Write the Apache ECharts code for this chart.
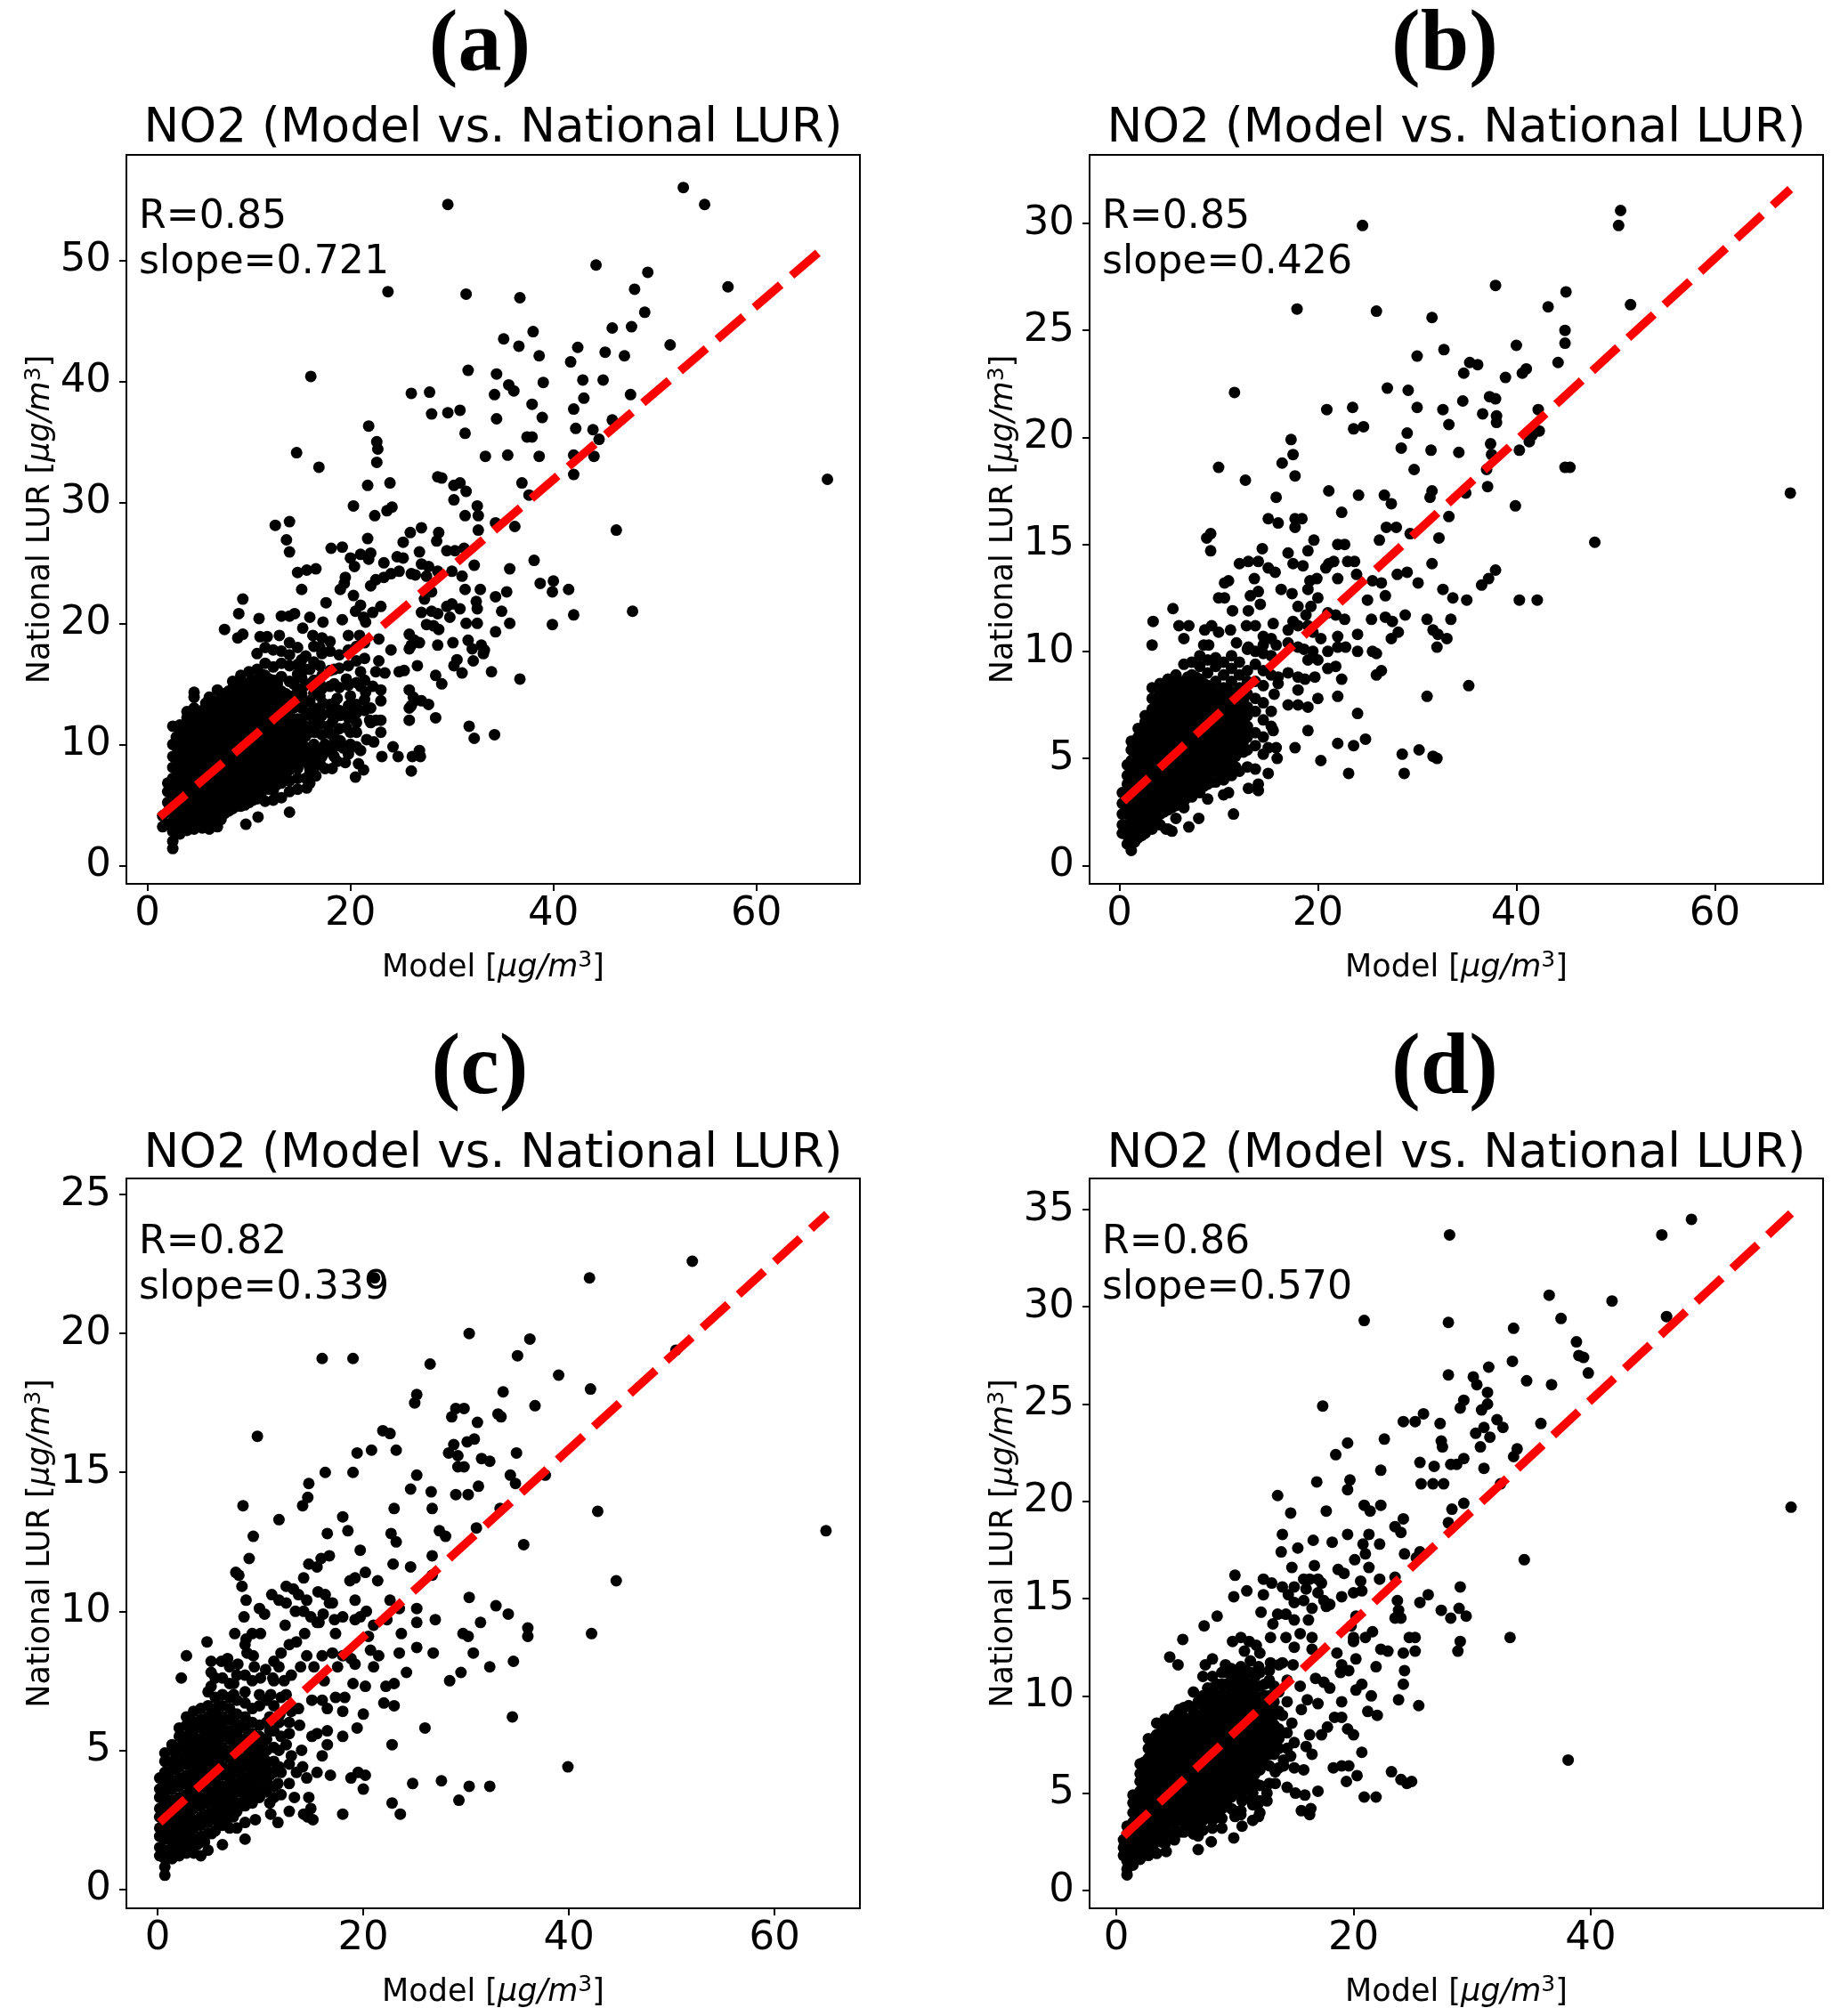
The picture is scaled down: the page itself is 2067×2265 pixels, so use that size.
<!DOCTYPE html>
<html><head><meta charset="utf-8">
<style>html,body{margin:0;padding:0;background:#fff}#c{width:2067px;height:2265px}</style>
<script src="https://cdn.jsdelivr.net/npm/echarts@6/dist/echarts.min.js"></script>
</head><body><div id="c"></div>
<script>
const panelLetters=['(a)','(b)','(c)','(d)'];
const chartTitle='NO2 (Model vs. National LUR)';
const rValues=['R=0.85','R=0.85','R=0.82','R=0.86'];
const slopeValues=['slope=0.721','slope=0.426','slope=0.339','slope=0.570'];
const xTicksA=[0,20,40,60],xTicksB=[0,20,40,60],xTicksC=[0,20,40,60],xTicksD=[0,20,40];
const yTicksA=[0,10,20,30,40,50],yTicksB=[0,5,10,15,20,25,30],yTicksC=[0,5,10,15,20,25],yTicksD=[0,5,10,15,20,25,30,35];
const fitA=[[1.2,4.0],[66.2,50.7]],fitB=[[0.4,3.0],[67.6,31.6]],fitC=[[0.2,2.4],[65.1,24.3]],fitD=[[0.6,2.8],[56.9,34.8]];

const pointsA=[[52.8,56],[54.9,54.6],[29.6,54.6],[44.2,49.6],[49.3,49],[57.2,47.8],[23.7,47.4],[31.4,47.2],[48,47.6],[36.7,46.9],[49,45.7],[45.8,44.4],[47.7,44.5],[38,44.1],[35.1,43.5],[51.5,43],[36.6,42.9],[42.4,42.8],[38.6,42.1],[41.7,41.6],[45.1,42.4],[47,42.1],[31.6,40.9],[34.4,40.6],[16.1,40.4],[42.9,40.1],[44.9,40.1],[39,39.9],[35.6,39.7],[26,39],[27.8,39.1],[36.1,39.2],[34.2,38.9],[47.6,38.9],[43,38.6],[37.9,38.1],[42,37.7],[29.6,37.4],[30.8,37.6],[28,37.3],[34.4,36.9],[38.9,37],[45.8,36.8],[42.2,36.1],[43.9,36],[21.8,36.3],[31.3,35.7],[37.4,35.4],[37.9,35.4],[22.6,35],[44.5,35.2],[22.7,34.4],[14.7,34.1],[33.3,33.8],[35.5,33.9],[38.6,33.8],[42,33.9],[44,33.8],[22.6,33.3],[16.9,32.9],[42,32.3],[28.6,32.1],[29,32],[36.9,31.6],[23.9,31.6],[30.2,31.4],[30.8,31.6],[21.7,31.4],[31.4,30.9],[37.6,30.6],[30.2,30.2],[67,31.9],[32.5,29.7],[20.3,29.7],[23.6,29.3],[24.1,29.6],[22.4,28.9],[31.3,28.9],[32.6,28.9],[34.3,28.3],[12.6,28.1],[14,28.4],[36.2,28],[46.2,27.7],[25.9,27.5],[27,27.9],[28.7,27.5],[32.6,27.7],[13.7,26.9],[21.7,27],[28.5,26.8],[25.2,26.7],[14,25.9],[18.1,26.2],[19.2,26.3],[21,25.7],[22,25.8],[26.8,25.9],[29.5,26],[30.3,26],[31.2,26.2],[24.6,25.5],[20,25.4],[21.8,25.3],[23.3,25],[25.2,25.4],[38.1,25.2],[32.2,24.8],[14.8,24.2],[15.7,24.4],[16.6,24.5],[20.4,24.7],[24.8,24.3],[26,24.1],[27,24.9],[27.7,24.7],[28.6,24.3],[30,24.3],[35.7,24.5],[19.5,23.8],[23.3,23.8],[24,24.1],[26.4,24],[27.5,23.9],[31,23.9],[38.7,23.3],[40,23.5],[19.4,23.3],[22.5,23.6],[22,23.1],[15.2,22.8],[19,22.8],[28,22.6],[31.3,22.8],[32.8,22.8],[34.3,22.2],[35.4,22.6],[39.9,22.6],[41.5,22.8],[9.4,22],[20.3,22.3],[21,21.5],[23,21.4],[27.3,22],[29.5,21.4],[30,21.6],[30.8,21.2],[32.4,21.8],[32.5,21.2],[17.6,21.7],[20.5,21],[21.3,20.5],[22.2,20.9],[27,20.9],[28,21],[28.6,20.8],[29.8,20.5],[34.9,21],[47.8,21],[9,20.8],[11,20.4],[13.2,20.6],[14,20.6],[14.5,20.8],[16,20.5],[17.3,20.1],[19.2,20.3],[21.5,20.1],[31.4,20],[32.5,20],[35.7,20],[39.9,19.9],[42,20.7],[7.6,19.5],[8.9,18.8],[9.4,19.1],[11.1,18.9],[11.8,18.9],[13,19],[15.3,19.6],[16.3,19],[17.2,18.8],[18,18.5],[19.8,19],[20.9,19],[22.8,18.7],[25.8,19.1],[26.3,18.6],[26.8,18.4],[27.5,19.9],[28.2,19.8],[28.7,19.5],[34.3,19.3],[14,4.4],[9.7,3.4],[10.9,4],[14.8,6.3],[15.7,6.4],[16,6.8],[16,7.6],[17.5,8],[18.7,8.6],[19.5,8.5],[20.5,7.3],[21.3,7.9],[20.8,8.4],[21,9.5],[19.3,9.7],[19,10.3],[18.5,10.2],[20,10],[22.3,10.2],[21.6,10.4],[23,11],[22.5,12],[22,11.8],[23,12],[23,13.6],[23,14.5],[22,13],[21.9,12],[23.1,9],[24.2,9.8],[24.7,9],[26,7.8],[26.1,9],[26.8,9.5],[26.9,9],[25.8,12],[25.8,13],[26,13.2],[26.3,13.6],[27,13.6],[27.7,13.3],[25.8,14.5],[26.2,13.9],[28.4,12.2],[31.7,11.5],[32.2,10.5],[34.2,10.8],[26.6,16.5],[24.8,16],[25.3,16.1],[28.4,15.7],[29,15],[32.1,16.9],[33.9,16],[36.7,15.4],[31,15.9],[30.2,16.5],[30.5,17],[32,17.9],[33.1,17.5],[33.2,17.8],[30.1,18.4],[31.6,18.6],[32.9,18.2],[28.6,18.2],[25.8,17.9],[26,18.2],[24,17.8],[22.8,16.9],[22.5,16],[23.4,15.9],[21,16],[19.6,15.4],[20,14],[21,14.8],[21.5,14.3],[22.2,14.8],[18.7,13.8],[17.3,13.4],[16.8,12.2],[17.8,11.5],[18,12.6],[19,12.4],[20,11],[16.5,11],[15.5,9.8],[16.8,9.5],[17.5,10],[15,8.8],[16,8.7],[16.6,7.4],[16.6,8.8],[18.2,8],[18.2,9.5],[18.2,11.8],[19.6,11.4],[19.6,12.8],[20.6,9.8],[20.6,11],[20.6,12.6]];
const denseA=[[1.5,[3.2,4.1]],[2,[3.4,4.4,5.2,6.1,6.8]],[2.5,[1.4,2,2.8,3.6,4.5,5.4,6.3,7.2,8.1,9,10,11.5]],[3.2,[2.6,3.4,4.3,5.1,6,6.8,7.7,8.5,9.4,10.2,11,11.6]],[3.9,[2.9,3.8,4.6,5.5,6.3,7.1,8,8.8,9.6,10.5,11.3,12.2,12.7]],[4.6,[3,3.9,4.7,5.6,6.4,7.3,8.1,8.9,9.8,10.6,11.4,12.3,13,14.3,13.9]],[5.4,[3.1,3.7,4.6,5.4,6.2,7,7.9,8.7,9.5,10.4,11.2,12,12.8,12.5]],[6.1,[3,3.9,4.9,5.7,6.6,7.4,8.3,9.1,9.9,10.8,11.6,12.4,13.1,13.9]],[6.9,[3.2,4.1,5,5.8,6.7,7.5,8.4,9.2,10,10.9,11.7,12.5,13.3,14.5]],[7.6,[4.3,5.2,6.1,6.9,7.8,8.6,9.4,10.3,11.1,11.9,12.8,13.6,14.2]],[8.4,[4.7,5.5,6.4,7.2,8,8.9,9.7,10.5,11.4,12.2,13,13.8,14.6,15.2]],[9.2,[4.9,5.8,6.6,7.4,8.3,9.1,9.9,10.8,11.6,12.4,13.2,14.1,14.9,15.7]],[10,[5.2,6,6.9,7.7,8.5,9.4,10.2,11,11.8,12.7,13.5,14.3,15.1,16]],[10.8,[5.5,6.3,7.1,8,8.8,9.6,10.5,11.3,12.1,12.9,13.7,14.6,15.4,16.2,17.5]],[11.6,[5.3,6.6,7.4,8.2,9.1,9.9,10.7,11.5,12.4,13.2,14,14.9,15.7,16.7,18]],[12.4,[5.4,6.2,7.1,7.9,8.7,9.6,10.4,11.2,12,12.9,13.7,14.5,15.3,16.4,17.8]],[13.2,[5.6,6.8,7.6,8.5,9.3,10.1,10.9,11.8,12.6,13.4,14.4,15.6,16.7,17.7]],[14,[6.1,7,7.9,8.9,9.7,10.6,11.4,12.3,13.1,14,15.2,16.5,17.4,18.4]],[14.8,[7.2,8,9.4,10.5,11.2,12.1,13.4,14.6,15.8,16.6,18]],[15.6,[7.2,8.5,10.7,11.5,12.6,13.5,14.9,16.2,17.3]],[16.4,[8,10,11.7,13,14.2,15.3,16.8,18.1]],[17.2,[9,10.8,12.4,14.6,15.7,17.5]],[18,[9.4,10.9,13.3,14.8,16.1,17.7]],[18.9,[9.9,11.3,12.8,14.7,16.3,17.4]],[19.8,[9.2,12.2,13.2,14.9,16.5,17.8]],[20.6,[11.8,13.3,15.1,16.9,18.1]],[21.4,[12.8,13.7,15.3,17.1,18.4]],
[2.85,[3,3.9,4.8,5.6,6.4,7.3,8.1,9,9.8,10.6]],[3.55,[3,3.9,4.7,5.6,6.4,7.3,8.1,9,9.8,10.7,11.4]],[4.25,[3.4,4.2,5,5.9,6.7,7.5,8.4,9.2,10,10.9,11.7]],[5,[3.4,4.3,5.1,5.9,6.8,7.6,8.4,9.3,10.1,11,11.8,12.6]],[5.75,[3.5,4.4,5.2,6,6.9,7.7,8.5,9.3,10.2,11,11.9,12.7,13.4]],[6.5,[3.6,4.5,5.4,6.2,7,7.9,8.7,9.5,10.4,11.2,12,12.9,13.6]],[7.25,[3.8,4.7,5.5,6.3,7.2,8,8.8,9.7,10.5,11.3,12.2,13,13.8]],[8,[4.5,5.3,6.1,7,7.8,8.7,9.5,10.3,11.2,12,12.8,13.6,14.4]],[8.8,[4.9,5.7,6.5,7.4,8.2,9,9.9,10.7,11.5,12.4,13.2,14,14.8]],[9.6,[5,5.9,6.7,7.6,8.4,9.2,10.1,10.9,11.7,12.6,13.4,14.2,15]],[10.4,[5.4,6.2,7,7.9,8.7,9.5,10.4,11.2,12,12.9,13.7,14.5,15.3]],[11.2,[5.9,6.7,7.5,8.4,9.2,10,10.9,11.7,12.5,13.4,14.2,15,15.8]],[12,[6.3,7.1,7.9,8.8,9.6,10.4,11.3,12.1,12.9,13.8,14.6,15.4]],[12.8,[6.7,7.5,8.3,9.2,10,10.8,11.7,12.5,13.3,14.1,15]],[13.6,[7.4,8.3,9.1,10,10.8,11.7,12.5,13.3,14.2]],[14.4,[8.5,9.9,11,12,13,14,15]],[15.2,[9.2,10.2,11.8,13,14.2,15.5,17]],[16,[8,9.2,11,12.4,13.6,15,16.2]],[17,[8.4,9.6,11.7,13,14,15,16.5,18]],[18.4,[9,10.6,12.2,13.4,15,16.2]]];

const pointsB=[[24.5,29.9],[50.5,30.6],[50.3,29.9],[37.9,27.1],[45,26.8],[43.2,26.1],[51.5,26.2],[17.9,26],[25.9,25.9],[31.5,25.6],[44.9,25],[44.9,24.4],[32.7,24.1],[40,24.3],[30,23.8],[44.2,23.5],[35.3,23.5],[36.1,23.4],[34.7,23],[40.6,23],[41,23.2],[38.9,22.8],[27,22.3],[29.1,22.2],[11.6,22.1],[37.3,21.9],[37.9,21.8],[34.6,21.7],[42.2,21.3],[23.5,21.4],[30,21.4],[20.9,21.3],[32.6,21.3],[36.6,21.1],[38,21],[38,20.7],[33.2,20.6],[23.6,20.4],[24.6,20.5],[29,20.2],[41.6,20.1],[42.3,20.3],[17.3,19.9],[37.4,19.7],[41.3,19.8],[28.4,19.5],[31.4,19.4],[40.3,19.4],[34.2,19.3],[17.5,19.2],[37.5,19.2],[16.4,18.8],[10,18.6],[29.7,18.5],[37,18.5],[44.9,18.6],[45.4,18.6],[17.7,18.2],[12.7,18],[21.1,17.5],[31.5,17.5],[26.7,17.3],[24.1,17.3],[15.8,17.2],[31.3,17.2],[34.9,17.4],[37.1,17.7],[27.4,16.9],[39.9,16.8],[22.4,16.5],[15,16.2],[16,16],[17.7,16.2],[18.4,16.2],[17.7,15.8],[26.9,15.8],[27.9,15.8],[33.2,16.3],[29.3,15.5],[19.6,15.2],[8.8,15.3],[9.2,15.5],[9.2,14.7],[47.9,15.1],[22,15],[22.7,15],[26.2,15.2],[32.2,15.3],[14.4,14.8],[19,14.7],[17,14.6],[13,14.2],[12.1,14.1],[14,14.2],[17.5,14.1],[18.5,14],[20.8,13.9],[21.1,14.1],[21.6,14.2],[23,14.2],[23.7,14.2],[31.5,14.1],[15,13.9],[15.7,13.7],[23.9,13.6],[28,13.6],[29,13.7],[37.9,13.8],[37.2,13.4],[36.5,13.1],[10.6,13.2],[11,13.3],[13.6,13.4],[19.2,13.3],[19.9,13.4],[22,13.4],[25.5,13.3],[26.4,13.2],[30.1,13.2],[32.6,12.9],[17.4,12.7],[16.3,12.9],[14,12.8],[13.2,12.6],[14.2,12.2],[10,12.5],[10.6,12.5],[20,12.5],[19.3,12.1],[25,12.4],[26.8,12.6],[33.6,12.5],[35,12.4],[40.3,12.4],[42.1,12.4],[11.4,11.9],[13,11.9],[18.8,11.7],[21,11.8],[21.8,11.7],[22.7,11.5],[25.4,11.5],[26.8,11.6],[27.5,11.4],[28.8,11.7],[31,11.5],[33.4,11.5],[31.6,11],[32.1,10.8],[33,10.6],[27.4,10.6],[28.1,10.9],[3.4,11.4],[5.4,12],[6,11.2],[7,11.2],[8.6,11],[9.3,11.2],[10,10.9],[11.2,11],[12.8,11.2],[13.7,11.2],[15.5,11.3],[17.5,11.4],[19.5,10.9],[20.3,10.6],[22,10.7],[24,10.8],[3.3,10.3],[6.5,10.6],[8.5,10.3],[9,10.3],[11.8,10.4],[13,10.2],[14.5,10.3],[15.8,10.3],[18.6,10.1],[19.5,10],[21,10],[22,10.2],[22.8,10.2],[24,10],[25.5,10],[25.9,9.9],[32,10.2],[20,9.6],[21,9.2],[21.8,9.3],[16,8.8],[16,8.5],[18,8.8],[18.7,8.7],[19.7,8.8],[25.9,8.9],[26.4,9.1],[22.4,8.7],[31,7.9],[35.2,8.4],[22,7.9],[20,7.8],[18,8.2],[17,7.5],[18,7.5],[19,7.4],[15.6,8],[24,7.1],[19,6.3],[15.5,6.3],[15.8,5.5],[17.7,5.5],[22,5.7],[23.6,5.6],[24.8,5.9],[20.3,4.9],[23.1,4.3],[28.5,5.2],[28.7,4.3],[30.2,5.4],[31.6,5.1],[32,5],[67.6,17.4],[15,4.3],[14.5,5.2],[15.9,5],[15,5.5],[14,3.8],[14,3.5],[13,3.6],[11.5,2.4],[10.5,3.3],[11,3.4],[8,2.2],[7,1.8],[4.7,1.7],[5.3,1.6]];
const denseB=[[0.3,[1.5,1.9,2.4,2.9,3.4]],[0.8,[1,1.4,1.9,2.4,2.8,3.3,3.8,4.2,4.7]],[1.2,[0.7,1.2,1.6,2.1,2.6,3,3.5,4,4.4,4.9,5.4,5.8]],[1.9,[1.3,1.8,2.3,2.7,3.2,3.7,4.1,4.6,5.1,5.5,6,6.4]],[2.6,[1.5,2,2.5,2.9,3.4,3.9,4.3,4.8,5.3,5.7,6.2,6.7,7]],[3.3,[1.7,2.2,2.6,3.1,3.6,4,4.5,5,5.4,5.9,6.4,6.8,7.3,7.8,8.3]],[4.1,[1.9,2.4,2.9,3.3,3.8,4.3,4.7,5.2,5.7,6.1,6.6,7.1,7.5,8,8.5]],[4.9,[1.7,2.6,3,3.5,4,4.4,4.9,5.4,5.8,6.3,6.8,7.2,7.7,8.2,8.7]],[5.7,[2.2,2.8,3.3,3.7,4.2,4.7,5.1,5.6,6.1,6.5,7,7.5,7.9,8.4,8.9]],[6.5,[2.7,3,3.5,4,4.4,4.9,5.4,5.8,6.3,6.8,7.2,7.7,8.2,8.6,9.4]],[7.3,[3.2,3.7,4.2,4.6,5.1,5.6,6,6.5,7,7.4,7.9,8.4,8.9,9.5]],[8.1,[3.4,3.9,4.4,4.9,5.3,5.8,6.3,6.7,7.2,7.7,8.1,8.7,9.3,9.8]],[8.9,[3.1,3.8,4.1,4.6,5.1,5.5,6,6.5,6.9,7.4,7.9,8.4,9,9.6]],[9.7,[3.9,4.4,4.9,5.3,5.8,6.3,6.7,7.2,7.7,8.1,8.6,9.3,9.7]],[10.5,[4,4.6,5.1,5.5,6,6.5,6.9,7.4,7.9,8.3,8.9,9.5]],[11.3,[4.2,4.8,5.3,5.7,6.2,6.7,7.1,7.6,8.1,8.6,9.2,9.8]],[12.1,[4.4,5.3,5.8,6.3,6.8,7.3,7.8,8.3,8.9,9.5]],[12.9,[4.6,5.4,6,6.5,7,7.4,8,8.6,9.1,10.1]],[13.7,[4.5,5.6,6.2,7.2,7.8,8.6,9.4,10]],[14.5,[6,6.8,7.6,8.4,9.1,9.9,10.7]],[15.3,[6.5,7.2,8.9,9.8,10.6]],[17,[9,10.4,11]],[18,[10.2,11.2,12.1]],[19,[9.6,11.2,12.9]],
[1.55,[1.1,1.5,2,2.4,2.9,3.4,3.8,4.3,4.7,5.2,5.7]],[2.25,[1.4,1.9,2.4,2.8,3.3,3.8,4.2,4.7,5.2,5.6,6.1]],[3,[2,2.4,2.8,3.3,3.8,4.2,4.7,5.2,5.6,6.1,6.6,7]],[3.7,[2.1,2.5,2.9,3.4,3.9,4.3,4.8,5.3,5.7,6.2,6.7,7.1,7.6]],[4.5,[2.5,3.2,3.6,4.1,4.6,5,5.5,6,6.4,6.9,7.4,7.8,8.3]],[5.3,[2.7,3.2,3.7,4.2,4.6,5.1,5.6,6,6.5,7,7.4,7.9,8.4]],[6.1,[2.9,3.3,3.8,4.3,4.7,5.2,5.7,6.1,6.6,7.1,7.5,8,8.5]],[6.9,[3.2,3.6,4.1,4.6,5,5.5,6,6.4,6.9,7.4,7.8,8.3,8.8]],[7.7,[3.5,4,4.5,5,5.5,5.9,6.4,6.9,7.3,7.8,8.3,8.8]],[8.5,[3.7,4.2,4.7,5.2,5.7,6.1,6.6,7.1,7.5,8,8.5]],[9.3,[3.9,4.5,5,5.4,5.9,6.4,6.8,7.3,7.8,8.3]],[10.1,[4.2,4.8,5.2,5.7,6.2,6.6,7.1,7.6,8.1]],[10.9,[4.4,5,5.5,6,6.4,6.9,7.4,7.8,8.2]],[11.7,[4.6,5.1,5.6,6.1,6.6,7,7.5,8]],[12.5,[5.3,5.8,6.3,6.8,7.3,7.7]]];

const pointsC=[[52,22.6],[42,22],[21.1,22],[30.3,20],[36.2,19.8],[35,19.2],[50.4,19.4],[16,19.1],[19,19.1],[26.5,18.9],[39,18.5],[33.6,17.9],[42.1,18],[25.2,17.8],[25,17.5],[36.7,17.4],[29,17.3],[29.8,17.3],[28.6,17],[33.1,17.1],[33.4,17],[31.1,16.8],[9.7,16.3],[21.9,16.5],[22.6,16.4],[30.1,16.1],[30.8,16.2],[28.8,16],[23.2,15.8],[19.4,15.7],[20.8,15.8],[28.3,15.7],[29.2,15.6],[31.5,15.5],[32.3,15.4],[34.9,15.7],[29.2,15.2],[29.8,15.2],[16.3,15],[19,15],[25.2,14.9],[34.3,14.9],[34.8,14.6],[37.7,14.9],[14.7,14.6],[31.2,14.5],[24.6,14.4],[26.6,14.3],[29,14.2],[30.2,14.2],[14.6,14.1],[14.1,13.8],[8.3,13.8],[23,13.7],[26.7,13.7],[33.3,13.7],[42.8,13.6],[18,13.4],[11.8,13.3],[18.5,12.9],[22.7,12.8],[27.4,12.9],[28,12.7],[16.5,12.8],[9.3,12.7],[23.2,12.5],[31,13],[35.6,12.4],[65,12.9],[19.7,12.2],[8.9,11.9],[15.9,11.9],[16.7,12],[26.7,12],[14.7,11.7],[15.5,11.6],[22.9,11.7],[24.6,11.6],[7.6,11.4],[7.9,11.3],[20.2,11.4],[14.2,11.2],[18.7,11.1],[19.2,11.2],[21.4,11.1],[26.7,11.3],[44.6,11.1],[8.2,10.9],[12.5,10.9],[13.2,10.8],[15.6,10.7],[16.3,10.6],[11.1,10.6],[11.8,10.4],[12.5,10.3],[13.7,10.6],[14.5,10.4],[16.7,10.3],[17,10.3],[19.2,10.4],[22.6,10.4],[30.3,10.5],[8.6,10.4],[9.9,10.1],[10.4,9.9],[13.4,10],[14.2,10],[14.9,9.8],[15.5,9.6],[16.1,9.9],[17.2,9.7],[18,9.8],[19.2,9.7],[19.7,9.8],[20.3,10],[21,9.5],[22.3,9.7],[23.5,10.1],[25.2,10.1],[27,9.7],[32.9,10.2],[34.1,9.9],[36,9.4],[8.4,9.8],[25.2,9.6],[31.4,9.6],[7.5,9.2],[8.6,9],[9.2,9.2],[10,9.2],[12.4,9.5],[14.3,9.2],[15.7,9.6],[17.3,9.2],[20.5,9.1],[23.7,9.2],[29.7,9.2],[30.2,9.1],[36,9.1],[42.2,9.2],[4.8,8.9],[8.5,8.8],[2.8,8.4],[5.2,8.2],[6.2,8.2],[6.8,8.3],[8.7,8.5],[9.3,8.4],[12,8.5],[12.8,8.8],[13.5,8.9],[14.5,8.4],[16,8.4],[17,8.5],[18,8.4],[18.8,8.3],[20.7,8.6],[21.5,8.4],[23.5,8.5],[25.2,8.7],[26.8,8.5],[30.7,8.5],[7.8,8.1],[9.4,8],[10.5,7.9],[11.8,8],[13.9,8],[15.2,8],[17.5,8],[19.2,8.1],[21,8],[24.2,7.8],[29.5,7.8],[32.3,8],[34.6,8.2],[2.3,7.6],[10,7.6],[11.2,7.6],[12.3,7.5],[13,7.7],[16.2,7.5],[19,7.4],[20.2,7.3],[22.2,7.3],[23,7.4],[28.4,7.5],[11,7],[12.5,7],[15,6.8],[16,6.8],[17.3,6.9],[18.2,6.9],[22,6.7],[11.9,6.3],[13,6.4],[13.7,6.5],[16.5,6.5],[18,6.4],[20,6.3],[23,6.6],[34.5,6.2],[13.8,5.9],[15,5.5],[15.5,5.6],[16.5,5.7],[19.4,5.8],[26,5.8],[16.5,5.2],[18,5.5],[22.8,5.2],[12.5,5.2],[13,4.8],[14,5],[16,4.8],[12.8,4.5],[14.1,4.4],[14.5,4],[13.5,4.2],[15.5,4.2],[16.8,4.1],[18.8,4],[19.5,4.2],[20.2,4.1],[20,3.6],[24.8,3.8],[27.6,3.9],[30.3,3.7],[32.3,3.7],[39.9,4.4],[11.7,3.8],[13.3,3.3],[14.7,3.3],[14.9,2.9],[22.8,3.1],[29.3,3.2],[23.6,2.7],[14.2,2.7],[14.6,2.6],[15.1,2.5],[18,2.7],[11,2.7],[11.7,2.4],[9.5,2.5],[8.5,1.8],[10.9,3.1],[10.9,4.1],[10.9,5.7],[10.9,6.2],[11.8,4.4],[11.8,5],[11.8,6],[12.8,2.8],[12.8,3.8],[12.8,5.6],[12.8,6],[5.2,7.3],[5.2,7.8],[7.4,7],[7.4,7.4]];
const denseC=[[0.2,[1.2,1.5,1.9,2.2,2.6,2.9,3.3,3.6,4]],[0.7,[0.5,0.8,1.1,1.4,1.8,2.1,2.5,2.8,3.2,3.5,3.9,4.2,4.6,4.9]],[1.4,[1.1,1.5,1.8,2.2,2.5,2.9,3.2,3.6,3.9,4.3,4.6,5,5.2]],[2.1,[1.2,1.6,1.9,2.3,2.6,3,3.3,3.7,4,4.4,4.7,5.1,5.5,5.8]],[2.8,[1.3,1.7,2,2.4,2.7,3.1,3.4,3.8,4.1,4.5,4.8,5.2,5.5,5.9,6.2]],[3.5,[1.3,1.8,2.2,2.5,2.9,3.2,3.6,3.9,4.3,4.6,5,5.3,5.7,6,6.4]],[4.2,[1.2,1.9,2.3,2.6,3,3.3,3.7,4,4.4,4.7,5.1,5.4,5.8,6.1,6.5]],[4.9,[1.4,2,2.4,2.7,3.1,3.4,3.8,4.1,4.5,4.8,5.2,5.5,5.9,6.2,6.6,7.1]],[5.6,[2.1,2.5,2.9,3.2,3.6,3.9,4.3,4.6,5,5.3,5.7,6,6.4,6.9,7.6]],[6.3,[1.6,2.3,2.7,3,3.4,3.7,4.1,4.4,4.8,5.1,5.5,5.8,6.2,6.6,7,7.6]],[7,[2.2,2.6,2.9,3.3,3.6,4,4.3,4.7,5,5.4,5.7,6.1,6.5,6.9,7.4,8]],[7.7,[2.2,2.8,3.1,3.5,3.8,4.2,4.5,4.9,5.2,5.6,5.9,6.3,6.8,7.7]],[8.5,[2.4,3,3.3,3.7,4,4.4,4.7,5.1,5.4,5.8,6.2,6.7,7.1,7.7]],[9.2,[3.1,3.5,3.9,4.2,4.6,4.9,5.3,5.6,6,6.5,7.5]],[9.9,[3.3,3.7,4.1,4.4,4.8,5.1,5.5,5.9,6.6,7]],[10.6,[3.5,3.9,4.3,4.6,5,5.4,6,6.8]],[11.3,[3.3,3.7,4.2,4.6,5.1,5.7,6.6,7.5,8.2]],[12,[3.4,4.2,5.5,6.9]],
[1.05,[1.2,1.8,2.4,3,3.6,4.2]],[1.75,[1.3,1.9,2.5,3.1,3.7,4.3,4.9]],[2.45,[1.5,2.1,2.7,3.3,3.9,4.5,5.1]],[3.15,[1.6,2.2,2.8,3.4,4,4.6,5.2,5.8]],[3.85,[1.6,2.4,3,3.6,4.2,4.8,5.4,6]],[4.55,[1.7,2.5,3.1,3.7,4.3,4.9,5.5,6.1]],[5.25,[2,2.7,3.3,3.9,4.5,5.1,5.7,6.3]],[5.95,[2.4,3,3.6,4.2,4.8,5.4,6,6.6]],[6.65,[2.5,3.1,3.7,4.3,4.9,5.5,6.1]],[7.35,[2.6,3.2,3.8,4.4,5,5.6,6.2]],[8.1,[3,3.5,4.1,4.7,5.3,5.9]],[8.85,[3.2,3.8,4.4,5,5.6]],[9.55,[3.4,4,4.6,5.2]],[10.25,[3.6,4.2,4.8,5.3]]];

const pointsD=[[48.5,34.5],[46,33.7],[28.1,33.7],[36.5,30.6],[41.8,30.3],[46.4,29.5],[20.9,29.3],[28,29.2],[37.5,29.4],[33.5,28.9],[38.8,28.2],[39,27.5],[39.4,27.4],[33.4,27.2],[31.4,26.9],[39.8,26.6],[28,26.5],[30.1,26.4],[34.6,26.2],[30.4,26],[36.7,26],[31.3,25.6],[29.3,25.2],[31.3,25],[17.4,24.9],[29,24.8],[30.8,24.7],[25.9,24.5],[24.2,24.1],[25.2,24.1],[27.3,24],[32.1,24.2],[35.8,24],[30.3,23.5],[31,23.8],[32.6,23.8],[22.6,23.2],[19.5,23],[31.5,23.3],[27.4,23.1],[27.5,22.8],[30.7,22.8],[33.8,22.7],[18.5,22.4],[33.5,22.3],[25.6,22],[29.3,22.2],[28.2,21.9],[28.7,21.9],[26.8,21.8],[22.3,21.6],[31,21.7],[19.7,21.1],[16.9,21],[25.7,20.9],[26.7,20.9],[27.6,20.9],[32.4,20.9],[19.5,20.6],[13.6,20.3],[29.3,19.9],[20.9,19.8],[22.3,19.8],[14.7,19.4],[17.7,19.5],[21.4,19.5],[28.3,19.6],[24.2,19.1],[23.5,18.7],[28,18.9],[14,18.3],[19.5,18.3],[21.3,18.3],[24,18.4],[16.6,18],[18.2,17.9],[20.8,17.8],[22.2,17.8],[13.9,17.4],[15.3,17.6],[21,17.3],[24.3,17.3],[25.6,17.4],[20.1,17],[25.3,17.1],[34.4,17],[14.8,16.6],[16.7,16.7],[18.7,16.5],[19.2,16.3],[21.3,16.6],[12.4,16],[10,16.2],[15.8,16],[16.3,16],[17,16],[17.3,15.8],[20.6,15.9],[22.2,16],[23.5,16.1],[15,15.6],[13.1,15.8],[14,15.6],[9.9,15.1],[11,15.4],[12.4,15.2],[14.5,15.2],[16,15.5],[17,15.3],[17.5,14.9],[19,15.1],[20,15.3],[20.7,15.4],[23.7,14.9],[26.3,15.2],[29,15.6],[12.2,14.3],[13.6,14.2],[14.3,14.2],[15,14.8],[15.8,14.9],[16.5,14.5],[17.7,14.6],[18,14.7],[20.2,14.1],[23.8,14.4],[23.5,14],[24,14],[25.6,14.8],[27.4,14.4],[28.2,14],[28.9,14.5],[29.5,14.1],[7.4,13.6],[8.5,14.1],[13.2,13.7],[15,13.9],[16.2,13.9],[19.8,13.6],[5.6,12.9],[9.8,12.8],[10.5,13],[11.2,12.8],[13,13],[14.3,13],[15.5,13.2],[16.5,13],[20,13],[21,13],[21.6,13.3],[24.7,13],[25.2,13],[29,12.8],[33.2,13],[4.5,12],[5.2,11.6],[10.8,12.3],[11.8,12.6],[15,12.5],[16.5,12.4],[18.6,12.2],[20,12.8],[22.3,12.4],[22.9,12.3],[24.2,12.2],[25.2,12.3],[28.8,12.3],[7.5,11.6],[8.1,11.9],[9.2,11.6],[12,11.5],[13,11.7],[14,11.7],[14.9,11.6],[19,11.6],[20.2,11.9],[21.9,11.5],[24.3,11.3],[18.9,11.2],[19.6,11.3],[16.8,10.9],[15.5,10.5],[17.5,10.7],[18,10.4],[20.7,10.6],[20.2,10.3],[24.2,10.6],[21.5,10],[23.8,9.8],[25.5,9.5],[16.1,9.8],[15.6,9.3],[17,9.6],[19,9.7],[14.8,8.6],[16.3,8],[17.8,8.4],[18.4,8.9],[19,8.9],[19.5,8.3],[20,8],[17.3,8],[21.2,9.2],[22,9],[14,9],[15,7.6],[16,7.4],[16.5,7],[20.7,7.1],[14.7,6.9],[15,6.3],[15.8,6.2],[18.3,6.3],[19,6.4],[19.6,6.4],[19.4,5.6],[20.3,5.9],[23.2,6.1],[24,5.7],[24.5,5.5],[24.9,5.6],[38.1,6.7],[56.9,19.7],[14.4,5.3],[15.1,5],[15.9,4.9],[17,5.1],[15.6,4.1],[16.3,3.9],[20.9,4.8],[21.9,4.8],[16.4,4.2],[12,3.8],[11.5,4.4],[11.9,4.4],[10,3.8],[10.6,4.6],[9.9,4.1],[10.5,3.9],[10.6,3.3],[9.9,2.7],[8.1,3.2],[8,2.5],[6.9,2.1],[4.2,2],[6.9,2.8],[8.9,3.2],[11.5,3.6],[11.5,5],[12.7,4.6],[12.7,5],[13.4,5.5],[13.4,6.1],[14.1,6.4],[14.1,6.7]];
const denseD=[[0.6,[2.6,2.2,1.8]],[0.9,[0.8,1.1,1.5,2,2.4,2.9,3.3]],[1.4,[1.3,1.7,2.2,2.6,3.1,3.5,4,4.5,4.9]],[2,[1.6,2,2.4,2.9,3.3,3.8,4.2,4.7,5.1,5.6,6,6.5]],[2.7,[1.8,2.3,2.8,3.2,3.7,4.1,4.6,5,5.5,5.9,6.4,6.8,7.3,7.8]],[3.4,[1.9,2.6,3,3.5,3.9,4.4,4.8,5.3,5.7,6.2,6.6,7.1,7.5,8,8.6]],[4.1,[2.4,2.9,3.3,3.8,4.2,4.7,5.1,5.6,6,6.5,6.9,7.4,7.8,8.3,8.8]],[4.9,[2.6,3,3.5,4,4.4,4.9,5.3,5.8,6.2,6.7,7.1,7.6,8,8.5,9]],[5.7,[3,3.5,3.9,4.4,4.8,5.3,5.7,6.2,6.6,7.1,7.5,8,8.4,8.9,9.4]],[6.5,[2.9,3.3,3.8,4.2,4.7,5.1,5.6,6,6.5,6.9,7.4,7.8,8.3,8.7,9.2,10.2]],[7.3,[3.1,3.6,4,4.5,4.9,5.4,5.8,6.3,6.7,7.2,7.6,8.1,8.5,9,9.5,10,11]],[8.1,[3.6,4,4.5,5,5.4,5.9,6.3,6.8,7.2,7.7,8.1,8.6,9,9.5,10,10.4,11]],[8.9,[3.7,4.2,4.7,5.1,5.6,6,6.5,6.9,7.4,7.8,8.3,8.7,9.2,9.6,10.1,10.6,11.2]],[9.7,[4.2,4.8,5.3,5.7,6.2,6.6,7.1,7.5,8,8.4,8.9,9.3,9.8,10.3,10.8,11.4]],[10.5,[4.1,4.9,5.4,5.9,6.3,6.8,7.2,7.7,8.1,8.6,9,9.5,9.9,10.4,10.9,11.5]],[11.3,[4.7,5.5,6,6.5,6.9,7.4,7.8,8.3,8.7,9.2,9.6,10.1,10.6,11.2,11.8]],[12.1,[4,4.6,5.4,6.2,6.7,7.1,7.6,8,8.5,8.9,9.4,9.9,10.5,11.2,12.2]],[12.9,[5.5,6.4,7,7.5,8,8.4,8.9,9.4,10,10.8,11.3]],[13.7,[6.3,7.3,7.8,8.3,9.2,10.2,11.6]],[14.4,[7.3,8.1,9.7,10.8]],
[2.35,[2,2.5,3.1,3.6,4.1,4.6,5.1,5.6,6.1,6.6]],[3.05,[2.2,2.7,3.3,3.8,4.3,4.8,5.3,5.8,6.3,6.8,7.3,7.7]],[3.75,[2.5,3.1,3.6,4.1,4.6,5.1,5.6,6.1,6.6,7.1,7.6,8.1]],[4.5,[2.9,3.5,4,4.5,5,5.5,6,6.5,7,7.5,8,8.5]],[5.3,[3,3.6,4.2,4.7,5.2,5.7,6.2,6.7,7.2,7.7,8.2,8.7,9.3]],[6.1,[3.2,3.7,4.3,4.8,5.3,5.8,6.3,6.8,7.3,7.8,8.3,8.8,9.5]],[6.9,[3.4,4,4.5,5,5.5,6,6.5,7,7.5,8,8.5,9,9.7]],[7.7,[3.8,4.3,4.8,5.3,5.8,6.3,6.8,7.3,7.8,8.3,8.8,9.3,9.8,10.4]],[8.5,[4,4.5,5,5.5,6,6.5,7,7.5,8,8.5,9,9.5,10,10.6]],[9.3,[4.4,5,5.5,6,6.5,7,7.5,8,8.5,9,9.5,10,10.6,11.2]],[10.1,[5,5.5,6,6.5,7,7.5,8,8.5,9,9.5,10,10.6,11.2]],[10.9,[5.2,5.7,6.2,6.7,7.2,7.7,8.2,8.7,9.2,9.7,10.2,10.7,11.3]],[11.7,[5.5,6,6.5,7,7.5,8,8.5,9,9.5,10,10.5,11]],[12.5,[6.5,7,7.5,8,8.5,9,9.5,10,10.6]],[13.3,[7,7.5,8,8.5,9,9.7,10.5]]];

const panels=[
 {g:{left:142,top:174,width:824,height:819},x:[-2.07,70.2],y:[-1.52,58.7],xt:xTicksA,yt:yTicksA,p:pointsA,d:denseA,f:fitA,lx:538,ly:53,sy:145,ax:156,ay:245},
 {g:{left:1224,top:174,width:824,height:819},x:[-3,70.9],y:[-0.86,33.2],xt:xTicksB,yt:yTicksB,p:pointsB,d:denseB,f:fitB,lx:1622,ly:53,sy:145,ax:1238,ay:245},
 {g:{left:142,top:1324,width:824,height:820},x:[-3.04,68.3],y:[-0.69,25.58],xt:xTicksC,yt:yTicksC,p:pointsC,d:denseC,f:fitC,lx:538,ly:1203,sy:1297,ax:156,ay:1397},
 {g:{left:1224,top:1324,width:824,height:820},x:[-2.26,59.6],y:[-0.92,36.6],xt:xTicksD,yt:yTicksD,p:pointsD,d:denseD,f:fitD,lx:1622,ly:1203,sy:1297,ax:1238,ay:1397}
];
const F='"DejaVu Sans"';
const unitRich={i:{fontFamily:F,fontStyle:'oblique',fontSize:35,color:'#000'},s:{fontFamily:F,fontSize:25,color:'#000',padding:[0,0,16,0]}};
const option={animation:false,backgroundColor:'#fff',grid:[],xAxis:[],yAxis:[],series:[],graphic:[]};
panels.forEach((P,i)=>{
 option.grid.push(Object.assign({show:true,borderColor:'#000',borderWidth:2,backgroundColor:'#fff'},P.g));
 const common={splitLine:{show:false},axisLine:{show:false,onZero:false},
  axisTick:{show:true,length:8,inside:false,lineStyle:{color:'#000',width:2}},
  nameLocation:'middle',nameTextStyle:{fontFamily:F,fontSize:35,color:'#000',rich:unitRich}};
 option.xAxis.push(Object.assign({},common,{type:'value',gridIndex:i,position:'bottom',min:P.x[0],max:P.x[1],name:'Model [{i|μg/m}{s|3}]',nameGap:74,
  axisTick:Object.assign({},common.axisTick,{customValues:P.xt}),
  axisLabel:{customValues:P.xt,fontFamily:F,fontSize:45,color:'#000',margin:12,showMinLabel:true,showMaxLabel:true}}));
 option.yAxis.push(Object.assign({},common,{type:'value',gridIndex:i,position:'left',min:P.y[0],max:P.y[1],name:'National LUR [{i|μg/m}{s|3}]',nameGap:74,nameRotate:90,
  axisTick:Object.assign({},common.axisTick,{customValues:P.yt}),
  axisLabel:{customValues:P.yt,fontFamily:F,fontSize:45,color:'#000',margin:17,padding:[5,0,0,0],showMinLabel:true,showMaxLabel:true}}));
 const pts=P.p.slice();
 P.d.forEach(c=>c[1].forEach(y=>pts.push([c[0],y])));
 option.series.push({type:'scatter',xAxisIndex:i,yAxisIndex:i,data:pts,symbol:'circle',symbolSize:13,itemStyle:{color:'#000',opacity:1},z:2,silent:true,clip:false});
 option.series.push({type:'line',xAxisIndex:i,yAxisIndex:i,data:P.f,symbol:'none',lineStyle:{color:'#ff0000',width:9.5,type:[39,16],cap:'butt'},z:3,silent:true});
 option.graphic.push({type:'text',z:10,style:{text:panelLetters[i],x:P.lx+1,y:P.ly,textAlign:'center',textVerticalAlign:'middle',font:'bold 98px "Liberation Serif"',fill:'#000'}});
 option.graphic.push({type:'text',z:10,style:{text:chartTitle,x:P.g.left+P.g.width/2,y:P.sy,textAlign:'center',textVerticalAlign:'middle',font:'53.2px '+F,fill:'#000'}});
 option.graphic.push({type:'text',z:10,style:{text:rValues[i],x:P.ax,y:P.ay,textAlign:'left',textVerticalAlign:'middle',font:'44.2px '+F,fill:'#000'}});
 option.graphic.push({type:'text',z:10,style:{text:slopeValues[i],x:P.ax,y:P.ay+51,textAlign:'left',textVerticalAlign:'middle',font:'44.2px '+F,fill:'#000'}});
});
const chart=echarts.init(document.getElementById('c'),null,{renderer:'canvas',width:2067,height:2265});
chart.setOption(option);
</script></body></html>
